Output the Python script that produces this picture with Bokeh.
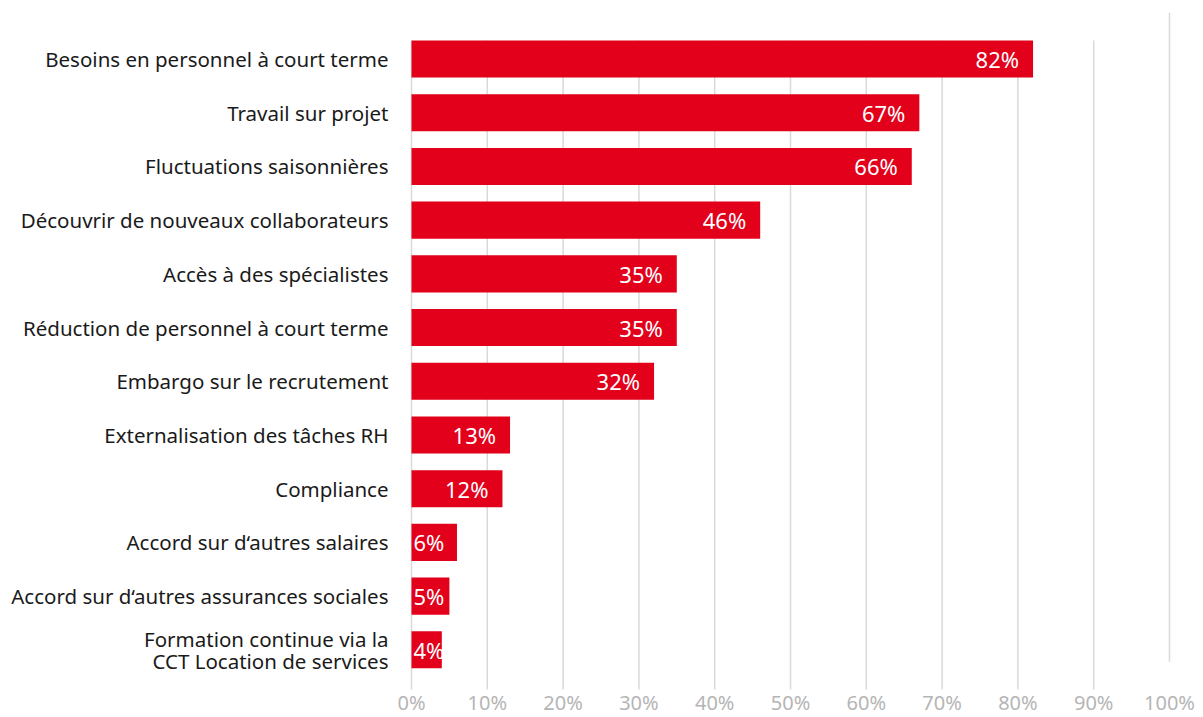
from bokeh.plotting import figure
from bokeh.models import ColumnDataSource, FixedTicker, Range1d
from bokeh.core.properties import value
from bokeh.embed import file_html
from bokeh.resources import INLINE

categories = [
    "Besoins en personnel à court terme",
    "Travail sur projet",
    "Fluctuations saisonnières",
    "Découvrir de nouveaux collaborateurs",
    "Accès à des spécialistes",
    "Réduction de personnel à court terme",
    "Embargo sur le recrutement",
    "Externalisation des tâches RH",
    "Compliance",
    "Accord sur d‘autres salaires",
    "Accord sur d‘autres assurances sociales",
    "Formation continue via la\nCCT Location de services",
]
values = [82, 67, 66, 46, 35, 35, 32, 13, 12, 6, 5, 4]
x_ticks = [0, 10, 20, 30, 40, 50, 60, 70, 80, 90, 100]

FONT = "Noto Sans"
RED = "#e2001a"

idx = list(range(len(categories)))
labels = [f"{v}%" for v in values]
big = [v >= 10 for v in values]

src_big = ColumnDataSource(dict(y=[i for i, b in zip(idx, big) if b],
                                x=[v for v, b in zip(values, big) if b],
                                t=[l for l, b in zip(labels, big) if b]))
src_small = ColumnDataSource(dict(y=[i for i, b in zip(idx, big) if not b],
                                  x=[0 for b in big if not b],
                                  t=[l for l, b in zip(labels, big) if not b]))

# horizontal: 7.58 px per percent; frame padded so tick labels fit inside it
PX = 7.58
X_START = -16 / PX
X_END = 100 + 34 / PX

# vertical layout in row units (row pitch ~53.7 px)
Y_TOP = -0.866      # top of frame
Y_BOT = 12.26       # bottom of frame (figure bottom)
Y_GRID_TOP = -0.345
Y_GRID_BOT = 11.74
Y_LAST_TOP = Y_TOP
Y_LAST_BOT = 11.22
Y_TICKLAB = 11.99

p = figure(width=1203, height=717, output_backend="svg", toolbar_location=None,
           x_range=Range1d(X_START, X_END), y_range=Range1d(Y_BOT, Y_TOP),
           min_border_left=395, min_border_right=0, min_border_top=12, min_border_bottom=0)
p.outline_line_color = None
p.xgrid.visible = False
p.ygrid.visible = False
p.xaxis.visible = False
p.background_fill_color = "white"
p.border_fill_color = "white"

# gridlines
g_main = [t for t in x_ticks if t < 100]
p.segment(x0=g_main, x1=g_main, y0=[Y_GRID_TOP] * len(g_main), y1=[Y_GRID_BOT] * len(g_main),
          line_color="#d9d9d9", line_width=1.5)
p.segment(x0=[100], x1=[100], y0=[Y_LAST_TOP], y1=[Y_LAST_BOT], line_color="#d9d9d9", line_width=1.5)

# x tick labels
p.text(x=x_ticks, y=[Y_TICKLAB] * len(x_ticks), text=[f"{t}%" for t in x_ticks],
       text_align="center", text_baseline="middle", text_color="#b5b5b5",
       text_font=value(FONT), text_font_size="20px")

p.hbar(y=idx, right=values, left=0, height=0.69, fill_color=RED, line_color=None)

p.text(x="x", y="y", text="t", source=src_big, text_align="right", text_baseline="middle",
       x_offset=-14, text_color="white", text_font=value(FONT), text_font_size="22px")
p.text(x="x", y="y", text="t", source=src_small, text_align="left", text_baseline="middle",
       x_offset=2, text_color="white", text_font=value(FONT), text_font_size="22px")

ya = p.yaxis[0]
ya.ticker = FixedTicker(ticks=idx)
ya.major_label_overrides = {i: c for i, c in zip(idx, categories)}
ya.axis_line_color = None
ya.major_tick_line_color = None
ya.minor_tick_line_color = None
ya.major_tick_out = 0
ya.major_tick_in = 0
ya.major_label_standoff = 7
ya.major_label_text_color = "#1a1a1a"
ya.major_label_text_font = FONT
ya.major_label_text_font_size = "20.5px"
ya.major_label_text_line_height = 0.8

open("out.html", "w").write(file_html(p, INLINE))
